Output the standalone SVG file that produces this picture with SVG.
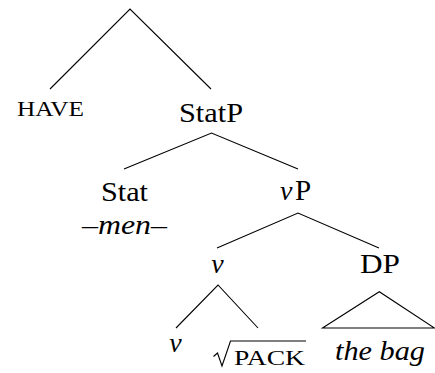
<svg xmlns="http://www.w3.org/2000/svg" width="435" height="373" viewBox="0 0 435 373">
<style>
.e{stroke:#000;stroke-width:1.1;fill:none}
</style>
<rect width="435" height="373" fill="#fff"/>
<g id="connectors">
<path class="e" d="M50,89 L130,9 L211,89"/>
<path class="e" d="M124,169 L211.5,133 L298,169"/>
<path class="e" d="M217,248 L298,213 L379,248"/>
<path class="e" d="M176,328 L218,285 L258,328"/>
<path class="e" d="M322.5,328 L379.3,291.7 L434.5,328 Z"/>
</g>
<g id="n-have"><text font-family="Liberation Serif" x="50.5" y="115.5" font-size="21" text-anchor="middle" textLength="67" lengthAdjust="spacingAndGlyphs">HAVE</text></g>
<g id="n-statp"><text font-family="Liberation Serif" x="211" y="122" font-size="28" text-anchor="middle" textLength="64" lengthAdjust="spacingAndGlyphs">StatP</text></g>
<g id="n-stat"><text font-family="Liberation Serif" x="124.5" y="200.5" font-size="28" text-anchor="middle" textLength="47" lengthAdjust="spacingAndGlyphs">Stat</text>
<text font-family="Liberation Serif" x="124.5" y="234" font-size="28" text-anchor="middle" font-style="italic" textLength="85" lengthAdjust="spacingAndGlyphs">–men–</text></g>
<g id="n-vp"><text font-family="Liberation Serif" x="280" y="200" font-size="28" font-style="italic">v</text><text font-family="Liberation Serif" x="295" y="200" font-size="29">P</text></g>
<g id="n-v"><text font-family="Liberation Serif" x="217.5" y="273" font-size="28" text-anchor="middle" font-style="italic">v</text></g>
<g id="n-dp"><text font-family="Liberation Serif" x="380" y="273" font-size="28" text-anchor="middle" textLength="40" lengthAdjust="spacingAndGlyphs">DP</text></g>
<g id="n-v2"><text font-family="Liberation Serif" x="175.5" y="352" font-size="28" text-anchor="middle" font-style="italic">v</text></g>
<g id="n-pack"><path class="e" d="M213.5,356.5 L217.5,353 L222,366 L230.5,341 L306,341"/>
<text font-family="Liberation Serif" x="269.5" y="365" font-size="20" text-anchor="middle" textLength="71" lengthAdjust="spacingAndGlyphs">PACK</text></g>
<g id="n-thebag"><text font-family="Liberation Serif" x="380" y="360" font-size="28" text-anchor="middle" font-style="italic" textLength="90" lengthAdjust="spacingAndGlyphs">the bag</text></g>
</svg>
